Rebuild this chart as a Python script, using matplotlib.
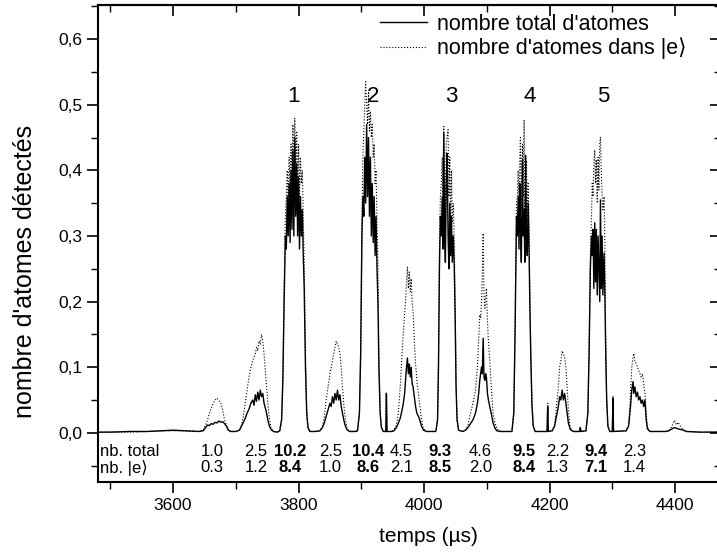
import numpy as np
import matplotlib
matplotlib.use("Agg")
import matplotlib.pyplot as plt
from matplotlib.ticker import MultipleLocator, FuncFormatter

plt.rcParams['font.family'] = ['Liberation Sans', 'DejaVu Sans']

# time (µs), total atom signal, |e> atom signal
temps = [
    3480, 3500, 3530, 3560, 3580, 3600, 3620, 3640, 3648,
    # small bump A
    3652, 3655, 3658, 3661, 3664, 3667, 3670, 3673, 3676, 3679, 3682, 3685, 3688, 3692,
    3700, 3706,
    # bump B
    3709, 3712, 3715, 3718, 3721, 3724, 3727, 3729, 3731, 3733, 3735, 3737, 3739, 3741,
    3743, 3745, 3747, 3749, 3751, 3753, 3756, 3760, 3766,
    # peak 1
    3770, 3773, 3775, 3777, 3779, 3780.5, 3782, 3783.5, 3785, 3786.5, 3788, 3789.5, 3791,
    3792.5, 3794, 3795.5, 3797, 3798.5, 3800, 3801.5, 3803, 3804.5, 3806, 3807.5, 3809,
    3811, 3813, 3815, 3818,
    # bump C
    3826, 3834, 3838, 3841, 3844, 3847, 3850, 3852, 3854, 3856, 3858, 3860, 3862, 3864,
    3866, 3868, 3870, 3872, 3874, 3877, 3881, 3890,
    # peak 2
    3894, 3897, 3899, 3901, 3902.5, 3904, 3905.5, 3907, 3908.5, 3910, 3911.5, 3913,
    3914.5, 3916, 3917.5, 3919, 3920.5, 3922, 3923.5, 3925, 3926.5, 3928, 3930, 3932,
    3935, 3939, 3940, 3941, 3948,
    # bump D
    3952, 3956, 3959, 3962, 3965, 3967, 3969, 3970.5, 3972, 3973.5, 3975, 3976.5, 3978,
    3979.5, 3981, 3982.5, 3984.5, 3986.5, 3988.5, 3991, 3993, 3996, 3999, 4004, 4018,
    # peak 3
    4019, 4021.5, 4023, 4024.5, 4026, 4027.5, 4029, 4030, 4031.4, 4032.8, 4034, 4035.3,
    4036.7, 4038.3, 4039.6, 4041, 4042.3, 4043.7, 4045, 4046.5, 4048, 4049.5, 4051,
    4052.6, 4055, 4062,
    # bump E
    4066, 4070, 4074, 4078, 4082, 4085, 4087, 4088.8, 4090.2, 4091.5, 4092.8, 4094.2,
    4095.5, 4096.8, 4098.1, 4099.4, 4101, 4102.6, 4104.7, 4107, 4110, 4113, 4116, 4122,
    4140,
    # peak 4
    4143, 4145, 4147.3, 4148.6, 4150, 4151.3, 4152.6, 4153.6, 4155, 4156.8, 4158,
    4159.4, 4160.6, 4162, 4163.2, 4164.5, 4166, 4167.3, 4168.5, 4170, 4172, 4174, 4177,
    4196, 4197, 4198,
    # bump F
    4204, 4208, 4211, 4214, 4216, 4218, 4220, 4222, 4224, 4226, 4228, 4230, 4233, 4238,
    4248, 4249, 4250,
    # peak 5
    4258, 4261, 4263, 4265, 4266.8, 4268, 4269.3, 4270.6, 4272, 4273.3, 4274.6, 4276,
    4277.3, 4278.6, 4280, 4281.1, 4282.4, 4283.7, 4285, 4286.9, 4288, 4289.5, 4291,
    4293, 4296, 4300, 4301, 4302,
    # bump G
    4322, 4326, 4329, 4331, 4333.1, 4334.2, 4336, 4338, 4340, 4342, 4344, 4346, 4348,
    4350, 4352, 4354, 4356, 4360, 4385,
    # bump H
    4390, 4395, 4399, 4402, 4405, 4409, 4413, 4418, 4440, 4475,
]

nb_total = [
    0.001, 0.001, 0.002, 0.002, 0.003, 0.004, 0.003, 0.002, 0.003,
    0.008, 0.012, 0.011, 0.014, 0.013, 0.016, 0.015, 0.018, 0.016, 0.017, 0.014, 0.010, 0.004, 0.002,
    0.002, 0.004,
    0.010, 0.016, 0.022, 0.030, 0.036, 0.045, 0.050, 0.042, 0.058, 0.048, 0.062, 0.050, 0.065, 0.055,
    0.060, 0.045, 0.038, 0.030, 0.020, 0.012, 0.005, 0.002, 0.001,
    0.003, 0.020, 0.080, 0.200, 0.300, 0.280, 0.360, 0.300, 0.380, 0.290, 0.400, 0.310, 0.430,
    0.300, 0.450, 0.330, 0.410, 0.300, 0.390, 0.280, 0.360, 0.300, 0.340, 0.270, 0.220,
    0.100, 0.030, 0.008, 0.002,
    0.002, 0.003, 0.008, 0.015, 0.025, 0.035, 0.045, 0.040, 0.055, 0.045, 0.060, 0.050, 0.065, 0.050,
    0.058, 0.040, 0.030, 0.020, 0.012, 0.005, 0.002, 0.002,
    0.003, 0.030, 0.120, 0.300, 0.360, 0.330, 0.420, 0.350, 0.470, 0.360, 0.450, 0.330,
    0.420, 0.300, 0.380, 0.290, 0.360, 0.270, 0.330, 0.250, 0.200, 0.100, 0.030, 0.008,
    0.002, 0.002, 0.060, 0.002, 0.002,
    0.003, 0.008, 0.015, 0.022, 0.035, 0.045, 0.060, 0.080, 0.100, 0.114, 0.090, 0.105, 0.085,
    0.100, 0.075, 0.070, 0.055, 0.040, 0.030, 0.025, 0.020, 0.010, 0.004, 0.002, 0.002,
    0.003, 0.020, 0.100, 0.250, 0.330, 0.300, 0.360, 0.280, 0.457, 0.300, 0.260, 0.380,
    0.426, 0.300, 0.250, 0.350, 0.270, 0.330, 0.260, 0.300, 0.260, 0.180, 0.070,
    0.020, 0.004, 0.002,
    0.004, 0.008, 0.014, 0.020, 0.030, 0.045, 0.060, 0.080, 0.090, 0.100, 0.090, 0.144,
    0.085, 0.080, 0.090, 0.085, 0.060, 0.050, 0.040, 0.030, 0.015, 0.007, 0.003, 0.002,
    0.002,
    0.030, 0.150, 0.330, 0.300, 0.360, 0.280, 0.380, 0.320, 0.260, 0.416, 0.300,
    0.340, 0.260, 0.423, 0.300, 0.270, 0.350, 0.280, 0.200, 0.120, 0.040, 0.010, 0.002,
    0.002, 0.040, 0.002,
    0.003, 0.010, 0.025, 0.040, 0.055, 0.050, 0.065, 0.050, 0.060, 0.045, 0.030, 0.015, 0.005, 0.002,
    0.002, 0.008, 0.002,
    0.003, 0.030, 0.120, 0.250, 0.300, 0.270, 0.310, 0.220, 0.320, 0.230, 0.310, 0.210,
    0.300, 0.250, 0.200, 0.355, 0.220, 0.300, 0.210, 0.274, 0.220, 0.120, 0.050,
    0.010, 0.002, 0.002, 0.053, 0.002,
    0.003, 0.010, 0.040, 0.065, 0.078, 0.060, 0.070, 0.055, 0.062, 0.050, 0.055, 0.045, 0.050,
    0.040, 0.050, 0.020, 0.006, 0.002, 0.002,
    0.003, 0.006, 0.008, 0.007, 0.006, 0.005, 0.004, 0.002, 0.001, 0.001,
]

nb_excite = [
    0.001, 0.001, 0.001, 0.002, 0.003, 0.003, 0.003, 0.002, 0.004,
    0.012, 0.020, 0.030, 0.038, 0.045, 0.050, 0.053, 0.049, 0.046, 0.035, 0.020, 0.012, 0.005, 0.002,
    0.002, 0.004,
    0.012, 0.025, 0.045, 0.065, 0.085, 0.100, 0.110, 0.115, 0.120, 0.130, 0.125, 0.140, 0.135, 0.150,
    0.140, 0.120, 0.095, 0.070, 0.045, 0.025, 0.008, 0.002, 0.001,
    0.003, 0.020, 0.090, 0.220, 0.330, 0.360, 0.400, 0.350, 0.420, 0.370, 0.440, 0.380, 0.470,
    0.400, 0.480, 0.410, 0.460, 0.370, 0.440, 0.360, 0.420, 0.380, 0.400, 0.330, 0.260,
    0.120, 0.035, 0.008, 0.002,
    0.002, 0.003, 0.010, 0.025, 0.050, 0.070, 0.090, 0.100, 0.110, 0.120, 0.130, 0.140, 0.135, 0.130,
    0.120, 0.100, 0.070, 0.045, 0.025, 0.008, 0.002, 0.002,
    0.003, 0.030, 0.130, 0.330, 0.420, 0.460, 0.500, 0.535, 0.500, 0.470, 0.520, 0.460,
    0.490, 0.450, 0.470, 0.420, 0.440, 0.380, 0.400, 0.320, 0.260, 0.120, 0.035, 0.008,
    0.002, 0.002, 0.062, 0.002, 0.002,
    0.004, 0.012, 0.030, 0.070, 0.120, 0.155, 0.180, 0.200, 0.230, 0.253, 0.220, 0.245, 0.215,
    0.235, 0.200, 0.185, 0.140, 0.105, 0.080, 0.060, 0.045, 0.020, 0.006, 0.002, 0.002,
    0.003, 0.020, 0.110, 0.280, 0.360, 0.380, 0.420, 0.350, 0.467, 0.380, 0.330, 0.440,
    0.450, 0.462, 0.360, 0.420, 0.330, 0.400, 0.320, 0.350, 0.300, 0.200, 0.080,
    0.020, 0.004, 0.002,
    0.004, 0.012, 0.030, 0.045, 0.065, 0.100, 0.140, 0.180, 0.175, 0.200, 0.240, 0.304,
    0.210, 0.190, 0.205, 0.220, 0.170, 0.140, 0.110, 0.070, 0.030, 0.015, 0.006, 0.002,
    0.002,
    0.030, 0.160, 0.350, 0.360, 0.400, 0.330, 0.420, 0.450, 0.340, 0.440, 0.360,
    0.477, 0.330, 0.400, 0.415, 0.320, 0.380, 0.310, 0.220, 0.130, 0.045, 0.010, 0.002,
    0.002, 0.045, 0.002,
    0.003, 0.012, 0.040, 0.070, 0.100, 0.110, 0.125, 0.120, 0.115, 0.100, 0.070, 0.035, 0.008, 0.002,
    0.002, 0.008, 0.002,
    0.003, 0.030, 0.130, 0.270, 0.330, 0.380, 0.360, 0.410, 0.431, 0.380, 0.416, 0.350,
    0.420, 0.370, 0.440, 0.451, 0.400, 0.360, 0.340, 0.360, 0.300, 0.140, 0.055,
    0.010, 0.002, 0.002, 0.055, 0.002,
    0.003, 0.012, 0.060, 0.100, 0.115, 0.121, 0.110, 0.105, 0.100, 0.095, 0.090, 0.085, 0.090,
    0.075, 0.060, 0.030, 0.008, 0.002, 0.002,
    0.003, 0.010, 0.019, 0.012, 0.016, 0.009, 0.005, 0.002, 0.001, 0.001,
]

# counts printed under each bunch
pos_comptes = [3662, 3732, 3787, 3851, 3911, 3964, 4026, 4090, 4159, 4213, 4274, 4335]
comptes_total = ["1.0", "2.5", "10.2", "2.5", "10.4", "4.5", "9.3", "4.6", "9.5", "2.2", "9.4", "2.3"]
comptes_excite = ["0.3", "1.2", "8.4", "1.0", "8.6", "2.1", "8.5", "2.0", "8.4", "1.3", "7.1", "1.4"]
gras = [False, False, True, False, True, False, True, False, True, False, True, False]

# labels of the five main bunches
pos_pics = [3792, 3918, 4043, 4168, 4286]
noms_pics = ["1", "2", "3", "4", "5"]

fig = plt.figure(figsize=(7.17, 5.56), dpi=100)
ax = fig.add_axes([98 / 717, 1 - 482 / 556, 623 / 717, 477 / 556])

ax.plot(temps, nb_total, color='black', linewidth=1.0, label="nombre total d'atomes")
ax.plot(temps, nb_excite, color='black', linewidth=0.8, linestyle=':',
        label="nombre d'atomes dans |e\u27e9")

ax.set_xlim(3480.4, 4473.2)
ax.set_ylim(-0.075, 0.652)

ax.xaxis.set_major_locator(MultipleLocator(200))
ax.xaxis.set_minor_locator(MultipleLocator(100))
ax.yaxis.set_major_locator(MultipleLocator(0.1))
ax.yaxis.set_minor_locator(MultipleLocator(0.05))
ax.yaxis.set_major_formatter(FuncFormatter(
    lambda v, p: f"{v:.1f}".replace('.', ',') if v >= -1e-9 else ""))
ax.tick_params(which='major', direction='out', length=8, width=1.2, labelsize=12.5)
ax.tick_params(which='minor', direction='out', length=5, width=1.0)
for s in ax.spines.values():
    s.set_linewidth(1.5)

# top / right axes with inward ticks
top = ax.secondary_xaxis('top')
top.xaxis.set_major_locator(MultipleLocator(200))
top.xaxis.set_minor_locator(MultipleLocator(100))
top.tick_params(which='major', direction='in', length=8, width=1.2, labeltop=False)
top.tick_params(which='minor', direction='in', length=5, width=1.0)
top.spines['top'].set_linewidth(1.5)
right = ax.secondary_yaxis('right')
right.yaxis.set_major_locator(MultipleLocator(0.1))
right.yaxis.set_minor_locator(MultipleLocator(0.05))
right.tick_params(which='major', direction='in', length=8, width=1.2, labelright=False)
right.tick_params(which='minor', direction='in', length=5, width=1.0)

ax.set_xlabel("temps (\u00b5s)", fontsize=15)
ax.set_ylabel("nombre d'atomes détectés", fontsize=18)
ax.xaxis.set_label_coords(0.53, -0.095)
ax.yaxis.set_label_coords(-0.098, 0.441)

for x, n in zip(pos_pics, noms_pics):
    ax.text(x, 0.513, n, fontsize=16, ha='center', va='center')

ax.text(0.004, -0.0285, "nb. total", transform=ax.get_yaxis_transform(),
        fontsize=12, ha='left', va='center')
ax.text(0.004, -0.053, "nb. |e\u27e9", transform=ax.get_yaxis_transform(),
        fontsize=12, ha='left', va='center')
for x, a, b, g in zip(pos_comptes, comptes_total, comptes_excite, gras):
    w = 'bold' if g else 'normal'
    ax.text(x, -0.0285, a, fontsize=12, ha='center', va='center', fontweight=w)
    ax.text(x, -0.053, b, fontsize=12, ha='center', va='center', fontweight=w)

ax.legend(loc='upper left', bbox_to_anchor=(380 / 717, 1 - 14 / 556),
          bbox_transform=fig.transFigure, frameon=False, borderpad=0,
          borderaxespad=0, handlelength=2.2, handletextpad=0.45,
          labelspacing=0.12, fontsize=15.5)

fig.savefig("out.png", dpi=100, facecolor='white')
